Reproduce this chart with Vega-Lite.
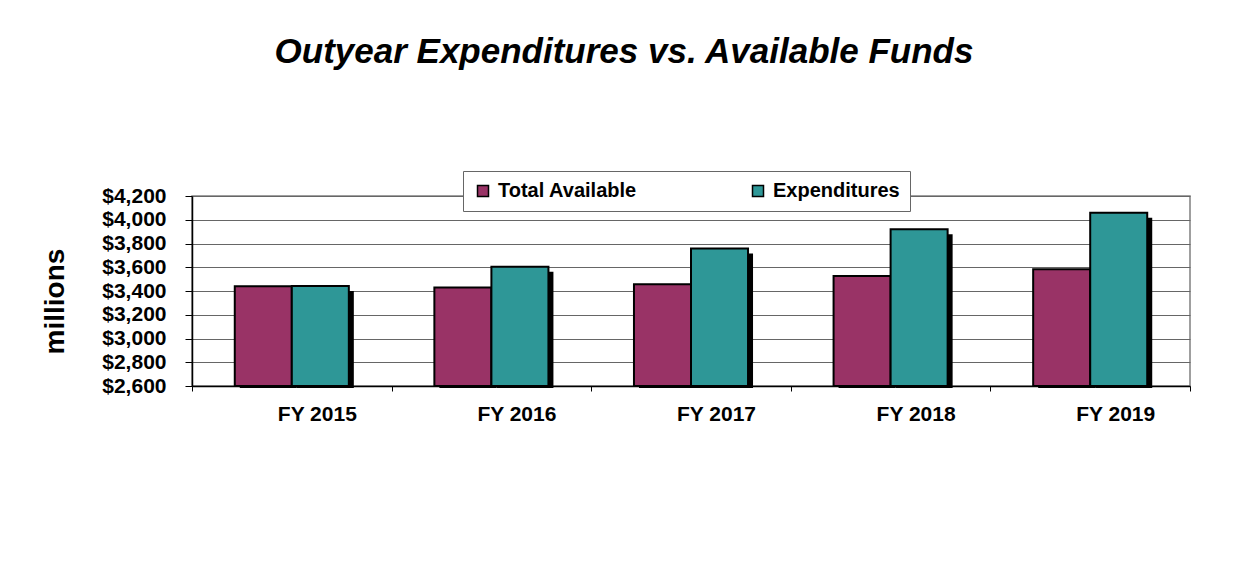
{
  "$schema": "https://vega.github.io/schema/vega-lite/v6.json",
  "autosize": {"type": "none"},
  "width": 998,
  "height": 190,
  "padding": {"left": 192, "top": 196, "right": 62, "bottom": 190},
  "background": "white",
  "config": {
    "font": "Liberation Sans",
    "view": {"stroke": "#808080", "strokeWidth": 1.5}
  },
  "title": {
    "text": "Outyear Expenditures vs. Available Funds",
    "font": "Liberation Sans",
    "fontSize": 35,
    "fontWeight": "bold",
    "fontStyle": "italic",
    "color": "black",
    "frame": "group",
    "anchor": "middle",
    "dx": -67,
    "offset": 73,
    "baseline": "alphabetic"
  },
  "data": {
    "values": [
      {"year": "FY 2015", "series": "Total Available", "value": 3440},
      {"year": "FY 2015", "series": "Expenditures", "value": 3442},
      {"year": "FY 2016", "series": "Total Available", "value": 3429},
      {"year": "FY 2016", "series": "Expenditures", "value": 3605},
      {"year": "FY 2017", "series": "Total Available", "value": 3456},
      {"year": "FY 2017", "series": "Expenditures", "value": 3757},
      {"year": "FY 2018", "series": "Total Available", "value": 3526},
      {"year": "FY 2018", "series": "Expenditures", "value": 3919},
      {"year": "FY 2019", "series": "Total Available", "value": 3583},
      {"year": "FY 2019", "series": "Expenditures", "value": 4060}
    ]
  },
  "encoding": {
    "x": {
      "field": "year",
      "type": "nominal",
      "scale": {"paddingInner": 0, "paddingOuter": 0},
      "axis": {
        "title": null,
        "labelAngle": 0,
        "labelFontSize": 21,
        "labelFontWeight": "bold",
        "labelColor": "black",
        "labelOffset": 25,
        "labelPadding": 12,
        "tickBand": "extent",
        "tickSize": 5,
        "tickColor": "black",
        "domainColor": "black",
        "domainWidth": 1.5,
        "grid": false
      }
    },
    "y": {
      "field": "value",
      "type": "quantitative",
      "scale": {"domain": [2600, 4200], "zero": false, "nice": false},
      "axis": {
        "title": "millions",
        "titleFontSize": 28,
        "titleFontWeight": "bold",
        "titleColor": "black",
        "titleX": -137,
        "titleY": 105,
        "titleAngle": -90,
        "titleBaseline": "middle",
        "titleAlign": "center",
        "values": [2600, 2800, 3000, 3200, 3400, 3600, 3800, 4000, 4200],
        "format": "$,.0f",
        "labelFontSize": 21,
        "labelFontWeight": "bold",
        "labelColor": "black",
        "labelPadding": 19,
        "labelFlush": false,
        "labelOverlap": false,
        "tickSize": 7,
        "tickColor": "black",
        "domainColor": "black",
        "domainWidth": 1.5,
        "gridColor": "#666666",
        "gridWidth": 1
      }
    },
    "y2": {"datum": 2600}
  },
  "layer": [
    {
      "mark": {"type": "bar", "color": "black", "yOffset": 5, "y2Offset": 2},
      "encoding": {
        "xOffset": {
          "field": "series",
          "type": "nominal",
          "sort": ["Total Available", "Expenditures"],
          "scale": {"paddingInner": 0, "paddingOuter": 0.75, "range": [5, 204.6]}
        }
      }
    },
    {
      "mark": {"type": "bar", "stroke": "black", "strokeWidth": 2},
      "encoding": {
        "xOffset": {
          "field": "series",
          "type": "nominal",
          "sort": ["Total Available", "Expenditures"],
          "scale": {"paddingInner": 0, "paddingOuter": 0.75}
        },
        "color": {
          "field": "series",
          "type": "nominal",
          "sort": ["Total Available", "Expenditures"],
          "scale": {"domain": ["Total Available", "Expenditures"], "range": ["#993366", "#2e9797"]},
          "legend": {
            "orient": "none",
            "legendX": 271,
            "legendY": -25,
            "direction": "horizontal",
            "title": null,
            "labelFontSize": 20,
            "labelFontWeight": "bold",
            "labelColor": "black",
            "symbolType": "square",
            "symbolSize": 121,
            "symbolStrokeColor": "black",
            "symbolStrokeWidth": 1.5,
            "symbolOpacity": 1,
            "labelOffset": 5,
            "columnPadding": 111,
            "padding": 10,
            "strokeColor": "#666666",
            "fillColor": "white"
          }
        }
      }
    }
  ],
  "resolve": {"scale": {"xOffset": "independent"}}
}
